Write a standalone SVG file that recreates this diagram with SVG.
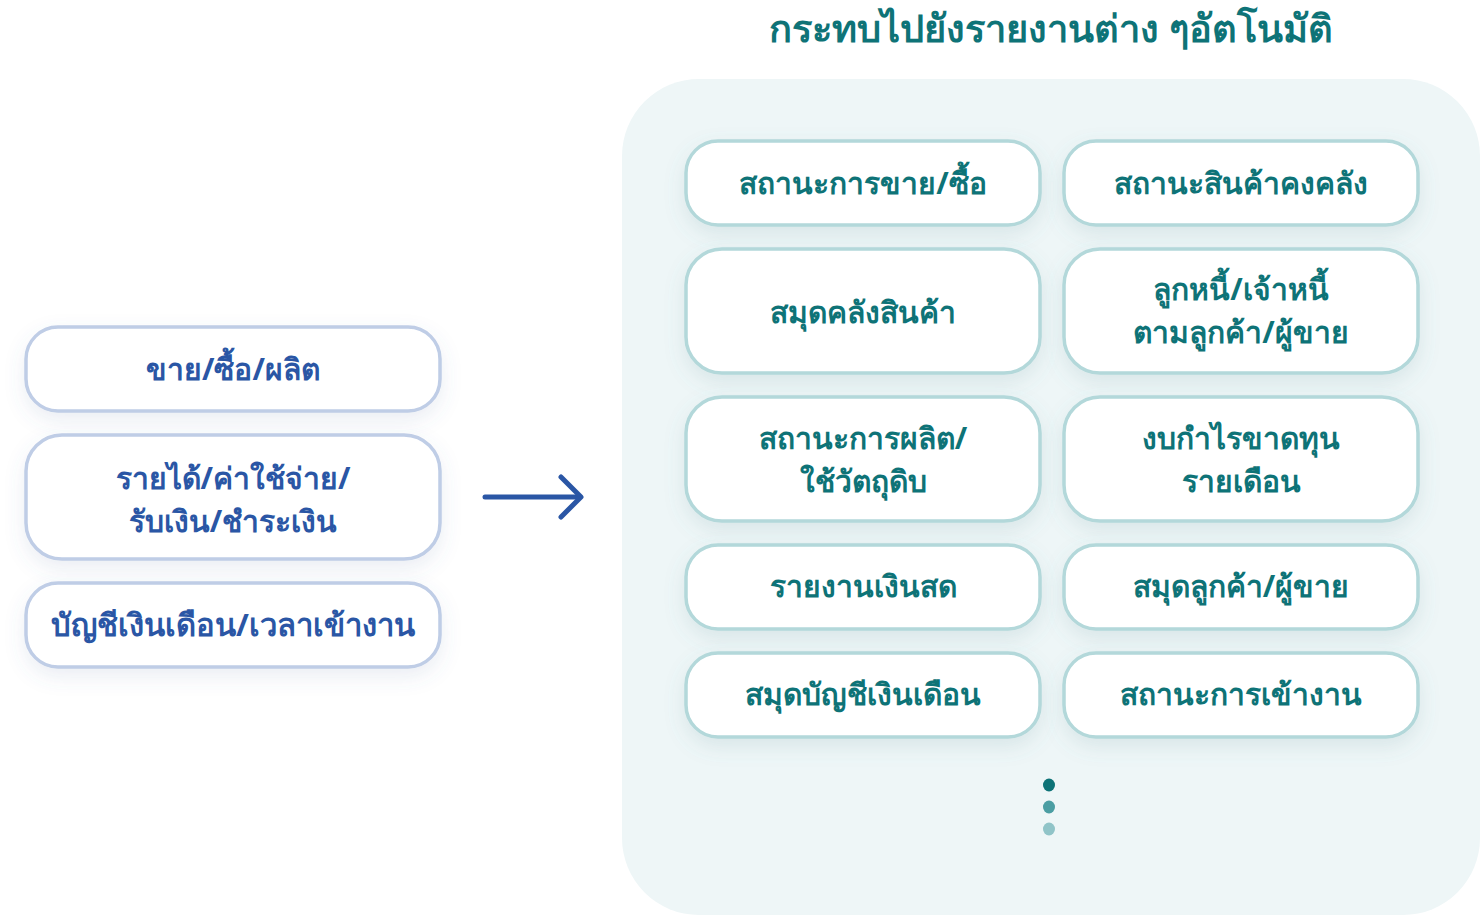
<svg xmlns="http://www.w3.org/2000/svg" width="1480" height="915" viewBox="0 0 1480 915">
<defs>
<filter id="sh" x="-20%" y="-30%" width="140%" height="170%">
<feDropShadow dx="0" dy="8" stdDeviation="10" flood-color="#5a8f95" flood-opacity="0.15"/>
</filter>
<filter id="shb" x="-20%" y="-30%" width="140%" height="170%">
<feDropShadow dx="0" dy="8" stdDeviation="10" flood-color="#5a6f9f" flood-opacity="0.12"/>
</filter>
</defs>
<style>
text{font-family:"Noto Sans","Liberation Sans",sans-serif;font-weight:700;text-anchor:middle}
.title{font-size:38px;fill:#0e7377}
.r rect{fill:#fff;stroke:#b3d8da;stroke-width:3.5}
.r text{font-size:30px;fill:#0e7377}
.l rect{fill:#fff;stroke:#bfcde6;stroke-width:3.5}
.l text{font-size:30px;fill:#2a56a5}
</style>
<rect width="1480" height="915" fill="#fff"/>
<text class="title" x="1051" y="42">กระทบไปยังรายงานต่าง ๆอัตโนมัติ</text>
<rect x="622" y="79" width="858" height="836" rx="77" fill="#eef6f7"/>

<g id="n-sale" class="l"><rect x="26" y="327" width="414" height="84" rx="32" filter="url(#shb)"/><text x="233" y="380">ขาย/ซื้อ/ผลิต</text></g>
<g id="n-income" class="l"><rect x="26" y="435" width="414" height="124" rx="36" filter="url(#shb)"/><text x="233" y="489">รายได้/ค่าใช้จ่าย/</text><text x="233" y="532">รับเงิน/ชำระเงิน</text></g>
<g id="n-payroll" class="l"><rect x="26" y="583" width="414" height="84" rx="32" filter="url(#shb)"/><text x="233" y="636" style="font-size:31px">บัญชีเงินเดือน/เวลาเข้างาน</text></g>

<g id="connectors" fill="none" stroke="#2a56a5" stroke-width="5" stroke-linecap="round" stroke-linejoin="round">
<path d="M485 497 H580"/>
<path d="M561 477 L581 497 L561 517"/>
</g>

<g id="r1" class="r"><rect x="686" y="141" width="354" height="84" rx="32" filter="url(#sh)"/><text x="863" y="194">สถานะการขาย/ซื้อ</text></g>
<g id="r2" class="r"><rect x="1064" y="141" width="354" height="84" rx="32" filter="url(#sh)"/><text x="1241" y="194">สถานะสินค้าคงคลัง</text></g>
<g id="r3" class="r"><rect x="686" y="249" width="354" height="124" rx="36" filter="url(#sh)"/><text x="863" y="323">สมุดคลังสินค้า</text></g>
<g id="r4" class="r"><rect x="1064" y="249" width="354" height="124" rx="36" filter="url(#sh)"/><text x="1241" y="300">ลูกหนี้/เจ้าหนี้</text><text x="1241" y="343">ตามลูกค้า/ผู้ขาย</text></g>
<g id="r5" class="r"><rect x="686" y="397" width="354" height="124" rx="36" filter="url(#sh)"/><text x="863" y="449">สถานะการผลิต/</text><text x="863" y="492">ใช้วัตถุดิบ</text></g>
<g id="r6" class="r"><rect x="1064" y="397" width="354" height="124" rx="36" filter="url(#sh)"/><text x="1241" y="449">งบกำไรขาดทุน</text><text x="1241" y="492">รายเดือน</text></g>
<g id="r7" class="r"><rect x="686" y="545" width="354" height="84" rx="32" filter="url(#sh)"/><text x="863" y="597">รายงานเงินสด</text></g>
<g id="r8" class="r"><rect x="1064" y="545" width="354" height="84" rx="32" filter="url(#sh)"/><text x="1241" y="597">สมุดลูกค้า/ผู้ขาย</text></g>
<g id="r9" class="r"><rect x="686" y="653" width="354" height="84" rx="32" filter="url(#sh)"/><text x="863" y="705">สมุดบัญชีเงินเดือน</text></g>
<g id="r10" class="r"><rect x="1064" y="653" width="354" height="84" rx="32" filter="url(#sh)"/><text x="1241" y="705">สถานะการเข้างาน</text></g>

<g id="dots">
<ellipse cx="1049" cy="785" rx="6" ry="6.5" fill="#0d7377"/>
<ellipse cx="1049" cy="807" rx="6" ry="6.5" fill="#4b9ea3"/>
<ellipse cx="1049" cy="829" rx="6" ry="6.5" fill="#90c4c8"/>
</g>
</svg>
